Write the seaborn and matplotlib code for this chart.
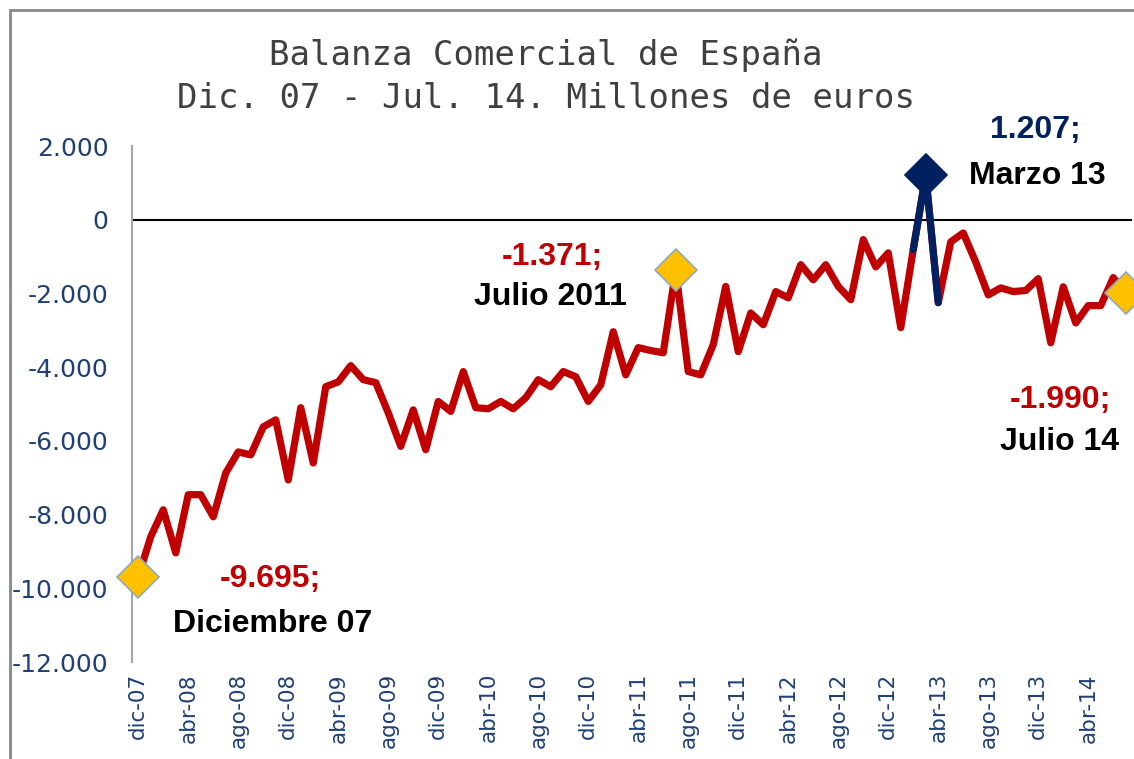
import numpy as np
import pandas as pd
import seaborn as sns
import matplotlib.pyplot as plt
from matplotlib.patches import Rectangle

# Monthly trade balance, dic-07 .. jul-14 (millones de euros)
values = [-9695, -8600, -7870, -9040, -7460, -7460, -8060, -6870, -6300, -6380,
          -5620, -5430, -7060, -5100, -6600, -4530, -4400, -3960, -4340, -4420,
          -5240, -6150, -5160, -6240, -4930, -5200, -4120, -5100, -5130, -4930,
          -5130, -4830, -4340, -4530, -4120, -4260, -4930, -4480, -3040, -4210,
          -3470, -3550, -3610, -1371, -4120, -4210, -3390, -1810, -3580, -2530,
          -2850, -1950, -2120, -1220, -1630, -1220, -1810, -2170, -540, -1280,
          -900, -2930, -810, 1207, -2250, -600, -360, -1150, -2040, -1850,
          -1950, -1920, -1600, -3340, -1820, -2800, -2330, -2330, -1570, -1990]

tick_labels = ['dic-07', 'abr-08', 'ago-08', 'dic-08', 'abr-09', 'ago-09', 'dic-09',
               'abr-10', 'ago-10', 'dic-10', 'abr-11', 'ago-11', 'dic-11', 'abr-12',
               'ago-12', 'dic-12', 'abr-13', 'ago-13', 'dic-13', 'abr-14']

highlight_idx = [0, 43, 63, 79]
highlight_val = ['-9.695;', '-1.371;', '1.207;', '-1.990;']
highlight_name = ['Diciembre 07', 'Julio 2011', 'Marzo 13', 'Julio 14']

df = pd.DataFrame({'mes': np.arange(len(values)), 'saldo': values})

RED = '#C00000'
NAVY = '#002060'
GOLD = '#FFC000'
TICK = '#1F3F77'

sns.set_style('white')
plt.rcParams['font.family'] = ['DejaVu Sans']

fig = plt.figure(figsize=(11.34, 7.59), dpi=100)
ax = fig.add_axes([132 / 1134, 97 / 759, 1000 / 1134, 516 / 759])

ax.axhline(0, color='black', lw=1.5, zorder=1)

sns.lineplot(data=df, x='mes', y='saldo', color=RED, lw=5.2, ax=ax,
             solid_joinstyle='round', zorder=3)
sns.lineplot(data=df.iloc[62:65], x='mes', y='saldo', color=NAVY, lw=5.2, ax=ax,
             solid_joinstyle='round', zorder=4)

# highlighted points
for k, i in enumerate(highlight_idx):
    is_max = values[i] == max(values)
    ax.plot(i, values[i], marker='D', ms=21,
            mfc=NAVY if is_max else GOLD,
            mec=NAVY if is_max else '#8FA8C0', mew=1.2,
            zorder=5, clip_on=False)

# labels: (value offset, name offset) in pixels
offsets = [((132, -2), (134, -47)),
           ((-123, 13), (-125, -27)),
           ((110, 45), (112, -1)),
           ((-65, -107), (-66, -149))]
val_colors = [RED, RED, NAVY, RED]
for k, i in enumerate(highlight_idx):
    (vx, vy), (nx, ny) = offsets[k]
    ax.annotate(highlight_val[k], xy=(i, values[i]), xytext=(vx, vy),
                textcoords='offset pixels', ha='center', va='center',
                fontsize=23, fontweight='bold', color=val_colors[k],
                family='Liberation Sans', zorder=6)
    ax.annotate(highlight_name[k], xy=(i, values[i]), xytext=(nx, ny),
                textcoords='offset pixels', ha='center', va='center',
                fontsize=23, fontweight='bold', color='black',
                family='Liberation Sans', zorder=6)

ax.set_xlim(-0.5, len(values) - 0.5)
ax.set_ylim(-12000, 2000)
ax.set_xticks(np.arange(0, len(values), 4))
ax.set_xticklabels(tick_labels, rotation=90, fontsize=15.5, color=TICK)
yt = np.arange(-12000, 2001, 2000)
ax.set_yticks(yt)
ax.set_yticklabels([f'{v:,}'.replace(',', '.') for v in yt], fontsize=18, color=TICK)
ax.tick_params(axis='x', length=0, pad=8)
ax.tick_params(axis='y', length=0, pad=17)
ax.set_xlabel('')
ax.set_ylabel('')

for s in ['top', 'right', 'bottom']:
    ax.spines[s].set_visible(False)
ax.spines['left'].set_color('#A6A6A6')
ax.spines['left'].set_linewidth(1.5)

fig.text(546 / 1134, 1 - 55 / 759, 'Balanza Comercial de España',
         ha='center', va='center', fontsize=24.5, color='#404040',
         family='DejaVu Sans Mono')
fig.text(546 / 1134, 1 - 98 / 759, 'Dic. 07 - Jul. 14. Millones de euros',
         ha='center', va='center', fontsize=24.5, color='#404040',
         family='DejaVu Sans Mono')

# outer chart frame (cut at right and bottom edges)
fig.patches.append(Rectangle((9.7 / 1134, -0.1), 1.2, 1 - 10.3 / 759 + 0.1,
                             transform=fig.transFigure, fill=False,
                             edgecolor='#878787', lw=2))

fig.savefig('out.png', dpi=100)
